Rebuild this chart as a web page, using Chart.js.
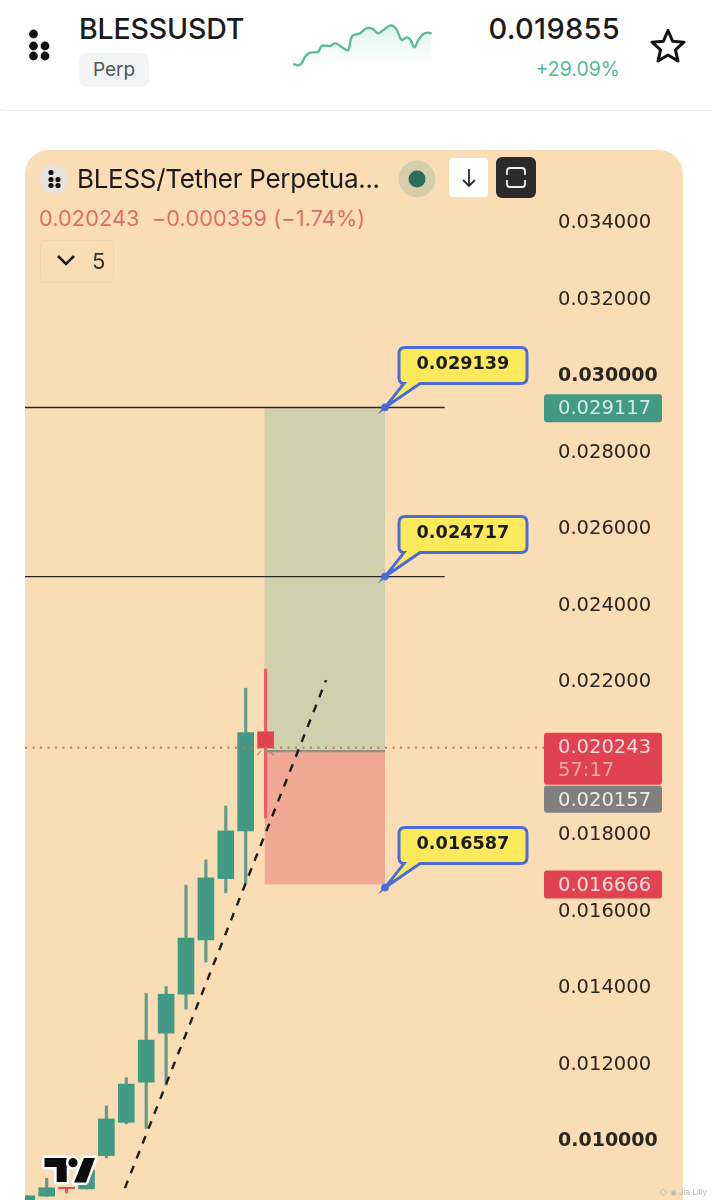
<!DOCTYPE html>
<html>
<head>
<meta charset="utf-8">
<script src="https://cdn.jsdelivr.net/npm/chart.js@4"></script>
<style>
  html, body { margin: 0; padding: 0; background: #fff; }
  body { position: relative; width: 712px; height: 1200px; overflow: hidden; font-family: Inter, sans-serif; color: #1b1b1b; }
  .abs { position: absolute; white-space: nowrap; }
  #topCard { left: -12px; top: -20px; width: 736px; height: 129px; border: 1.5px solid #e7e8e8; border-radius: 18px; box-sizing: content-box; }
  #panel { left: 25px; top: 150px; width: 658px; height: 1100px; background: #fbddb5; border-radius: 24px; }
  #chart { position: absolute; left: 25px; top: 150px; }
  #spark { position: absolute; left: 285px; top: 20px; }
</style>
</head>
<body>
<div class="abs" id="topCard"></div>

<svg class="abs" style="left:20px;top:20px" width="60" height="50">
  <g fill="#111">
    <circle cx="13.5" cy="14" r="4.4"/><circle cx="13.5" cy="26" r="4.4"/><circle cx="25" cy="26" r="4.4"/>
    <circle cx="13.5" cy="36" r="4.4"/><circle cx="25" cy="36" r="4.4"/>
  </g>
</svg>
<div class="abs" style="left:79px;top:11px;font-size:28.5px;font-weight:500;letter-spacing:-0.15px">BLESSUSDT</div>
<div class="abs" style="left:79px;top:53px;width:70px;height:34px;background:#f3f4f5;border-radius:8px;text-align:center;line-height:33px;font-size:19px;color:#555">Perp</div>
<canvas id="spark" width="155" height="55"></canvas>
<div class="abs" style="right:92px;top:11px;font-size:29px;font-weight:500;letter-spacing:0.3px">0.019855</div>
<div class="abs" style="right:92px;top:57px;font-size:19.5px;color:#52b996">+29.09%</div>
<svg class="abs" style="left:648px;top:26px" width="40" height="40" viewBox="0 0 40 40">
  <path d="M20 4.5 L24.6 15.2 L36 16.2 L27.4 23.8 L30 35 L20 29 L10 35 L12.6 23.8 L4 16.2 L15.4 15.2 Z" fill="none" stroke="#111" stroke-width="3" stroke-linejoin="round"/>
</svg>

<div class="abs" id="panel"></div>
<canvas id="chart" width="658" height="1050"></canvas>

<svg class="abs" style="left:40px;top:165px" width="28" height="28">
  <circle cx="14" cy="14" r="14" fill="#e4e3dd"/>
  <g fill="#111">
    <circle cx="11" cy="7.5" r="2.6"/><circle cx="11" cy="14.5" r="2.6"/><circle cx="18" cy="14.5" r="2.6"/>
    <circle cx="11" cy="20.5" r="2.6"/><circle cx="18" cy="20.5" r="2.6"/>
  </g>
</svg>
<div class="abs" style="left:77px;top:163px;font-size:26px;letter-spacing:-0.3px">BLESS/Tether Perpetua...</div>
<svg class="abs" style="left:398px;top:160px" width="38" height="38">
  <circle cx="19" cy="19" r="18.5" fill="#d6ceab"/><circle cx="19" cy="19" r="8.5" fill="#2a6d5e"/>
</svg>
<div class="abs" style="left:449px;top:158px;width:39px;height:39px;background:#fff;border-radius:4px"></div>
<svg class="abs" style="left:449px;top:158px" width="39" height="39">
  <path d="M20 11 V28 M14 22 L20 28 L26 22" fill="none" stroke="#2b2b2b" stroke-width="1.8"/>
</svg>
<div class="abs" style="left:496px;top:157px;width:40px;height:41px;background:#2b2b2b;border-radius:6px"></div>
<svg class="abs" style="left:496px;top:157px" width="40" height="41">
  <path d="M11 18 V14 Q11 11 14 11 H26 Q29 11 29 14 V18 M11 23 V27 Q11 30 14 30 H26 Q29 30 29 27 V23" fill="none" stroke="#eee" stroke-width="1.8"/>
</svg>
<div class="abs" style="left:39px;top:205px;font-size:21.7px;color:#de6a6c;letter-spacing:0.1px">0.020243&nbsp; −0.000359 (−1.74%)</div>
<div class="abs" style="left:40px;top:240px;width:72px;height:41px;border:1.5px solid #f1d4ad;border-radius:4px"></div>
<svg class="abs" style="left:55px;top:252px" width="24" height="18">
  <path d="M3 4 L11 12 L19 4" fill="none" stroke="#1b1b1b" stroke-width="2.6"/>
</svg>
<div class="abs" style="left:92px;top:248px;font-size:22px;color:#333">5</div>

<svg class="abs" style="left:36px;top:1150px" width="68" height="42" viewBox="36 1150 68 42">
  <g fill="#0d0d0d" stroke="#fff" stroke-width="5" paint-order="stroke" stroke-linejoin="round">
    <path d="M44.5 1158 H66.7 V1182 H56.7 V1167 H44.5 Z"/>
    <circle cx="73" cy="1162.7" r="4.6"/>
    <path d="M84 1158 H95 L86 1182.5 H74 Z"/>
  </g>
</svg>
<div class="abs" style="left:659px;top:1187px;font-size:8px;color:#b9b9b9">◇ ◉ Jia Lilly</div>

<script>
// candle positions along the time axis, price values
const candleIdx = [0, 1, 2, 3, 4, 5, 6, 7, 8, 9, 10, 11, 12];
const opens  = [0.00830, 0.00852, 0.00875, 0.00871, 0.00958, 0.01045, 0.01150, 0.01278, 0.01380, 0.01522, 0.01682, 0.01807, 0.02066];
const closes = [0.00853, 0.00874, 0.00872, 0.00920, 0.01054, 0.01145, 0.01260, 0.01380, 0.01527, 0.01684, 0.01807, 0.02064, 0.02024];
const highs  = [0.00853, 0.00899, 0.00875, 0.00920, 0.01088, 0.01162, 0.01382, 0.01400, 0.01665, 0.01731, 0.01872, 0.02180, 0.02230];
const lows   = [0.00830, 0.00852, 0.00860, 0.00871, 0.00952, 0.01041, 0.01029, 0.01142, 0.01341, 0.01464, 0.01645, 0.01671, 0.01841];

const priceTicks = [0.01, 0.012, 0.014, 0.016, 0.018, 0.022, 0.024, 0.026, 0.028, 0.03, 0.032, 0.034];
const boldTicks = [0.03, 0.01];

const targetHigh = 0.029117;
const targetLow = 0.016666;
const entryPrice = 0.020157;
const lastPrice = 0.020243;
const levelLines = [0.029139, 0.024717];
const calloutPrices = [0.029139, 0.024717, 0.016587];
const calloutLabels = ["0.029139", "0.024717", "0.016587"];
const boxStart = 11.94;
const boxEnd = 18;
const levelEnd = 21;
const trendIdx = [4.93, 15.04];
const trendPrice = [0.00873, 0.02201];
// the two little grey ticks next to the entry handle
const handleIdxA = [11.57, 11.77];
const handleIdxB = [12.12, 12.42];
const handlePriceA = [0.02005, 0.02016];
const handlePriceB = [0.02016, 0.02005];

// small sparkline in the top card
const sparkSteps = [25, 40, 50, 60, 75, 90, 100, 110, 125, 135, 150, 165, 180, 190, 200, 210, 225, 240, 255, 265, 280, 295, 315, 330, 340, 350, 365, 375, 388, 400, 415, 428, 440];
const sparkPrices = [0.01552, 0.01533, 0.01562, 0.01657, 0.01714, 0.01719, 0.01728, 0.01809, 0.01814, 0.01809, 0.01847, 0.01814, 0.01762, 0.01752, 0.01943, 0.01971, 0.01990, 0.02052, 0.02066, 0.02047, 0.01990, 0.02038, 0.02100, 0.02076, 0.01990, 0.01895, 0.01933, 0.01905, 0.01790, 0.01895, 0.01981, 0.02000, 0.019855];

const green = "#429a85";
const greenWick = "#5f9c88";
const red = "#e0434f";
const redWick = "#ee5c64";
const blue = "#4a6bd8";
const axisFont = "'DejaVu Sans'";

let upOrDown = (a, b) => closes[a] >= opens[a] ? b[0] : b[1];

function flatLine(x0, x1, y, extra) {
  return Object.assign({
    type: "line",
    data: [{ x: x0, y: y }, { x: x1, y: y }],
    pointRadius: 0,
    borderWidth: 1.4,
    borderColor: "#2b2620",
    tension: 0
  }, extra);
}

function shortLine(xs, ys) {
  return {
    type: "line",
    data: xs.map((x, i) => ({ x: x, y: ys[i] })),
    pointRadius: 0,
    borderWidth: 1.4,
    borderColor: "#9a9a88",
    tension: 0,
    order: 3
  };
}

// rounded yellow label with the tail pointing at the level
function drawCallout(ctx, px, py, text) {
  let l = px + 14, t = py - 60, w = 128, h = 36, r = 6;
  ctx.beginPath();
  ctx.moveTo(l + r, t);
  ctx.lineTo(l + w - r, t);
  ctx.quadraticCurveTo(l + w, t, l + w, t + r);
  ctx.lineTo(l + w, t + h - r);
  ctx.quadraticCurveTo(l + w, t + h, l + w - r, t + h);
  ctx.lineTo(l + 21, t + h);
  ctx.lineTo(px, py);
  ctx.lineTo(l + 5, t + h);
  ctx.quadraticCurveTo(l, t + h, l, t + h - r);
  ctx.lineTo(l, t + r);
  ctx.quadraticCurveTo(l, t, l + r, t);
  ctx.closePath();
  ctx.fillStyle = "#fdea5c";
  ctx.fill();
  ctx.lineWidth = 3;
  ctx.strokeStyle = blue;
  ctx.stroke();
  ctx.fillStyle = "#1b1b1b";
  ctx.font = "700 17.7px " + axisFont;
  ctx.textAlign = "center";
  ctx.textBaseline = "middle";
  ctx.fillText(text, l + w / 2, t + h / 2 - 1);
}

function drawTag(ctx, top, h, color, lines) {
  let l = 519, w = 118;
  ctx.fillStyle = color;
  ctx.beginPath();
  ctx.roundRect(l, top, w, h, 3);
  ctx.fill();
  ctx.textAlign = "left";
  ctx.textBaseline = "middle";
  ctx.font = "400 19.5px " + axisFont;
  lines.forEach((line, i) => {
    ctx.fillStyle = line.color;
    ctx.fillText(line.text, l + 14, top + 15 + i * 23);
  });
}

const overlayPlugin = {
  id: "overlay",
  afterDraw(chart) {
    let ctx = chart.ctx;
    let xs = chart.scales.x, ys = chart.scales.y;
    ctx.save();

    calloutPrices.forEach((p, i) => {
      drawCallout(ctx, xs.getPixelForValue(boxEnd), ys.getPixelForValue(p), calloutLabels[i]);
    });

    let pt = ys.getPixelForValue(targetHigh);
    drawTag(ctx, pt - 14, 28, green, [{ text: "0.029117", color: "#d5ece4" }]);

    let lastTop = ys.getPixelForValue(lastPrice) - 15;
    drawTag(ctx, lastTop, 52, red, [
      { text: "0.020243", color: "#fbdcdc" },
      { text: "57:17", color: "#f6a5a5" }
    ]);
    drawTag(ctx, lastTop + 53, 27, "#7f7f80", [{ text: "0.020157", color: "#ececec" }]);

    let pl = ys.getPixelForValue(targetLow);
    drawTag(ctx, pl - 14, 28, red, [{ text: "0.016666", color: "#fbdcdc" }]);
    ctx.restore();
  }
};

new Chart(document.getElementById("chart").getContext("2d"), {
  type: "bar",
  data: {
    datasets: [
      // take profit and stop boxes, both measured from the entry
      flatLine(boxStart, boxEnd, targetHigh, {
        borderWidth: 0, order: 9,
        fill: { value: entryPrice }, backgroundColor: "#cfd0ac"
      }),
      flatLine(boxStart, boxEnd, targetLow, {
        borderWidth: 0, order: 9,
        fill: { value: entryPrice }, backgroundColor: "#efa994"
      }),
      {
        label: "wick",
        type: "bar",
        data: candleIdx.map((x, i) => ({ x: x, y: [lows[i], highs[i]] })),
        backgroundColor: candleIdx.map(i => upOrDown(i, [greenWick, redWick])),
        barThickness: 2.5,
        grouped: false,
        order: 6
      },
      {
        label: "body",
        type: "bar",
        data: candleIdx.map((x, i) => ({ x: x, y: [opens[i], closes[i]] })),
        backgroundColor: candleIdx.map(i => upOrDown(i, [green, red])),
        barThickness: 16,
        grouped: false,
        order: 5
      },
      flatLine(-0.09, levelEnd, levelLines[0], { order: 4 }),
      flatLine(-0.09, levelEnd, levelLines[1], { order: 4 }),
      flatLine(boxStart, boxEnd, entryPrice, { borderColor: "#8f8f80", borderWidth: 2.2, order: 3 }),
      flatLine(-0.09, 25.99, lastPrice, { borderColor: "#d4695f", borderWidth: 1.8, borderDash: [2, 5.5], order: 3 }),
      shortLine(handleIdxA, handlePriceA),
      shortLine(handleIdxB, handlePriceB),
      {
        type: "line",
        data: trendIdx.map((x, i) => ({ x: x, y: trendPrice[i] })),
        borderColor: "#1f1c18",
        borderWidth: 2.4,
        borderDash: [8, 8],
        pointRadius: 0,
        tension: 0,
        order: 2
      },
      {
        type: "scatter",
        data: calloutPrices.map(p => ({ x: boxEnd, y: p })),
        backgroundColor: blue,
        borderColor: blue,
        pointRadius: 3.5,
        order: 1
      }
    ]
  },
  options: {
    responsive: false,
    animation: false,
    layout: { padding: 0, autoPadding: false },
    plugins: { legend: { display: false }, tooltip: { enabled: false } },
    scales: {
      x: { type: "linear", min: -0.09, max: 25.99, display: false, offset: false },
      y: {
        position: "right",
        min: 0.00842,
        max: 0.035869,
        grid: { display: false, drawTicks: false },
        border: { display: false },
        afterBuildTicks: s => { s.ticks = priceTicks.map(v => ({ value: v })); },
        afterFit: s => {
          s.width = 139;
          s.paddingTop = 0;
          s.paddingBottom = 0;
        },
        ticks: {
          autoSkip: false,
          padding: 14,
          labelOffset: 1.5,
          color: "#2a2620",
          font: c => {
            let bold = c.tick && boldTicks.includes(c.tick.value);
            return { family: axisFont, size: bold ? 19 : 19.5, weight: bold ? "700" : "400" };
          },
          callback: v => v.toFixed(6)
        }
      }
    }
  },
  plugins: [overlayPlugin]
});

let sparkCtx = document.getElementById("spark").getContext("2d");
let sparkFill = sparkCtx.createLinearGradient(0, 0, 0, 46);
sparkFill.addColorStop(0, "rgba(96,196,160,0.22)");
sparkFill.addColorStop(1, "rgba(96,196,160,0)");

new Chart(sparkCtx, {
  type: "line",
  data: {
    datasets: [{
      data: sparkSteps.map((x, i) => ({ x: x, y: sparkPrices[i] })),
      borderColor: "#5dbb9a",
      borderWidth: 2.4,
      pointRadius: 0,
      tension: 0.35,
      fill: "start",
      backgroundColor: sparkFill
    }]
  },
  options: {
    responsive: false,
    animation: false,
    layout: { padding: 0, autoPadding: false },
    plugins: { legend: { display: false }, tooltip: { enabled: false } },
    scales: {
      x: { type: "linear", min: 0, max: 465, display: false },
      y: { min: 0.01395, max: 0.02181, display: false }
    }
  }
});
</script>
</body>
</html>
